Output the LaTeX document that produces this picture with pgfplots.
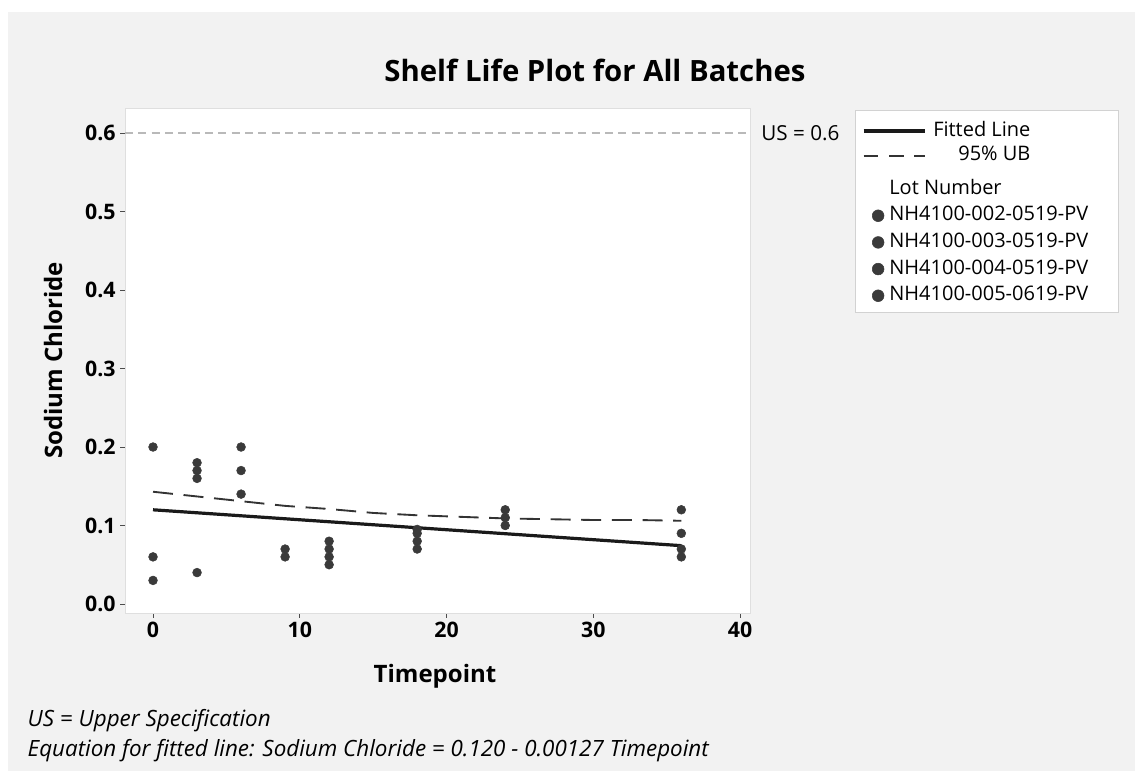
\documentclass[border=0pt]{standalone}
\usepackage{pgfplots}
\pgfplotsset{compat=1.18}
\usepackage{fontspec}
\setmainfont{Open Sans}
\definecolor{bggray}{HTML}{F2F2F2}
\definecolor{dotgray}{HTML}{3A3A3A}
\definecolor{fitcol}{HTML}{1A1A1A}
\pgfplotsset{lotstyle/.style={only marks, mark=*, mark size=3.3pt, color=dotgray,
  legend image code/.code={\draw[##1, mark size=4.4pt] plot coordinates {(0pt,0pt)};}}}
\begin{document}
\begin{tikzpicture}[x=0.75pt,y=0.75pt]
\fill[white] (0,0) rectangle (1135,771);
\fill[bggray] (8,0) rectangle (1135,759);
\fill[white,draw=gray!35] (855,661) rectangle (1118,459);
\node[font=\fontsize{22}{26}\selectfont\bfseries] at (595,701) {Shelf Life Plot for All Batches};
\node[anchor=base west,font=\fontsize{16.8}{19}\selectfont\itshape] at (23,44) {US = Upper Specification};
\node[anchor=base west,font=\fontsize{16.8}{19}\selectfont\itshape] at (23,15) {Equation for fitted line: Sodium Chloride = 0.120 - 0.00127 Timepoint};
\begin{axis}[
  at={(93.75pt,118.5pt)}, anchor=south west, scale only axis,
  width=468.75pt, height=378.75pt,
  xmin=-1.91, xmax=40.68, ymin=-0.0115, ymax=0.632,
  clip=false,
  axis background/.style={fill=white},
  axis line style={gray!25},
  xtick={0,10,20,30,40}, ytick={0,0.1,0.2,0.3,0.4,0.5,0.6},
  tick align=outside, major tick length=3.5pt,
  tick style={black!70, line width=0.6pt},
  xtick pos=bottom, ytick pos=left,
  /pgf/number format/assume math mode=true,
  tick label style={font=\fontsize{16}{18}\selectfont\bfseries},
  yticklabel style={/pgf/number format/fixed,/pgf/number format/fixed zerofill,/pgf/number format/precision=1},
  xlabel={Timepoint}, ylabel={Sodium Chloride},
  label style={font=\fontsize{18}{21}\selectfont\bfseries},
  xlabel style={at={(axis description cs:0.496,-0.125)},anchor=center},
  ylabel style={at={(axis description cs:-0.115,0.5)},anchor=center},
  legend style={at={(axis description cs:1.1888,0.867)},anchor=north west,draw=none,fill=none,
    font=\fontsize{15}{17}\selectfont, row sep=3.5pt,
    nodes={text height=11pt,text depth=3.5pt,inner sep=1pt},
    /tikz/every odd column/.style={column sep=3pt}},
  legend cell align=left,
]
\addplot[gray!55, line width=1.1pt, dash pattern=on 6pt off 4pt, forget plot] coordinates {(-1.91,0.6) (40.68,0.6)};
\node[anchor=west,font=\fontsize{15.5}{17}\selectfont] at (axis cs:40.68,0.6) [xshift=5pt] {US = 0.6};
\addplot[fitcol, line width=2.4pt, forget plot] coordinates {(0,0.120) (36,0.0743)};
\addplot[black!80, line width=1.4pt, dash pattern=on 15pt off 8pt, forget plot] coordinates {
(0,0.143) (3,0.137) (6,0.131) (9,0.125) (12,0.121) (15,0.116) (18,0.113) (21,0.111) (24,0.109) (27,0.108) (30,0.107) (33,0.107) (36,0.106)};
\addlegendimage{empty legend}
\addlegendentry{Lot Number}
\addplot[lotstyle] coordinates {(0,0.20) (3,0.18) (6,0.20) (9,0.07) (12,0.08) (18,0.09) (24,0.12) (36,0.12)};
\addlegendentry{NH4100-002-0519-PV}
\addplot[lotstyle] coordinates {(0,0.06) (3,0.17) (6,0.17) (9,0.06) (12,0.07) (18,0.08) (24,0.11) (36,0.09)};
\addlegendentry{NH4100-003-0519-PV}
\addplot[lotstyle] coordinates {(0,0.03) (3,0.16) (6,0.14) (12,0.06) (18,0.07) (24,0.10) (36,0.07)};
\addlegendentry{NH4100-004-0519-PV}
\addplot[lotstyle] coordinates {(3,0.04) (12,0.05) (18,0.095) (36,0.06)};
\addlegendentry{NH4100-005-0619-PV}
\end{axis}
\begin{axis}[
  at={(93.75pt,118.5pt)}, anchor=south west, scale only axis,
  width=468.75pt, height=378.75pt, hide axis,
  xmin=0, xmax=1, ymin=0, ymax=1,
  legend style={at={(axis description cs:1.4576,0.982)},anchor=north east,draw=none,fill=none,
    font=\fontsize{15}{17}\selectfont, row sep=2pt,
    nodes={text height=11pt,text depth=3.5pt,inner sep=1pt},
    /tikz/every odd column/.style={column sep=4pt}},
  legend cell align=right,
  legend image code/.code={\draw[#1] (0pt,0pt) -- (46pt,0pt);},
]
\addlegendimage{fitcol, line width=2.4pt}
\addlegendentry{Fitted Line}
\addlegendimage{black!80, line width=1.4pt, dash pattern=on 11pt off 8pt}
\addlegendentry{95\% UB}
\end{axis}
\end{tikzpicture}
\end{document}
